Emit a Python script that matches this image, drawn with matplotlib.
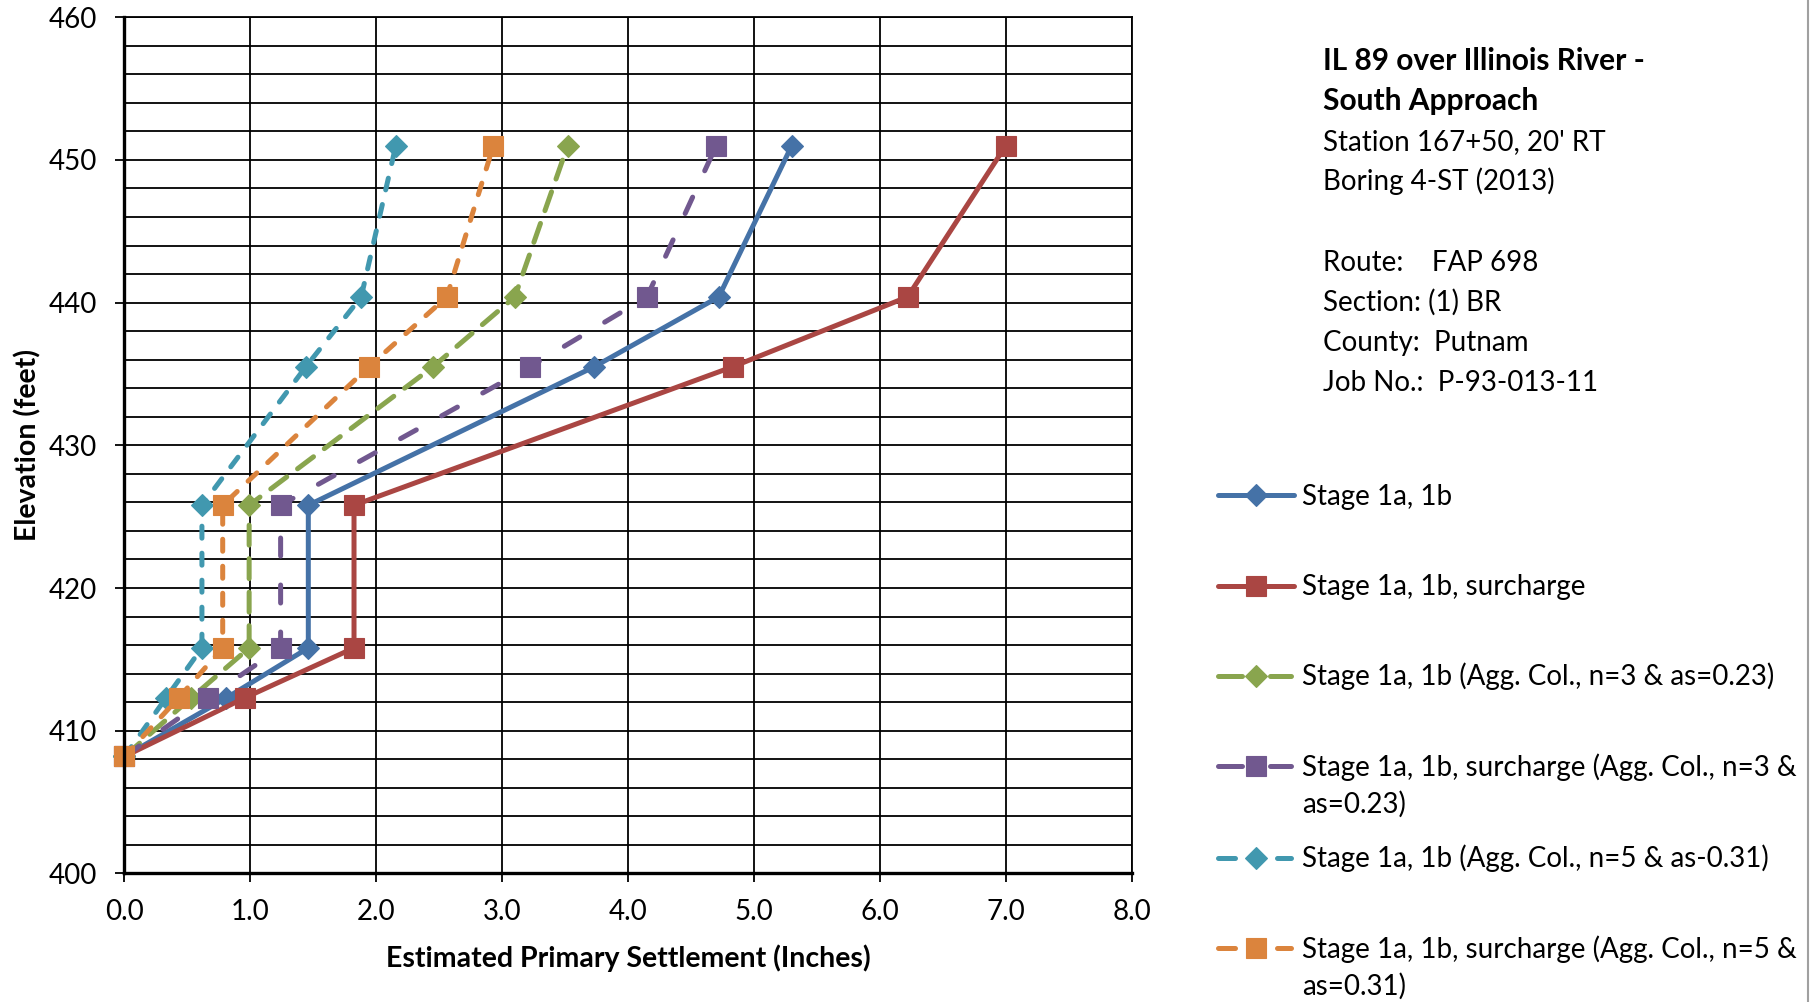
import matplotlib
matplotlib.use("Agg")
import matplotlib.pyplot as plt
from matplotlib.lines import Line2D
from matplotlib.ticker import MultipleLocator

# ---- data -------------------------------------------------------------
elevation = [408.2, 412.3, 415.8, 425.8, 435.5, 440.4, 451.0]

stage_1a_1b = [0.0, 0.81, 1.46, 1.46, 3.73, 4.72, 5.30]
stage_surcharge = [0.0, 0.955, 1.823, 1.823, 4.83, 6.22, 7.00]
agg3 = [0.0, 0.53, 0.99, 0.99, 2.45, 3.10, 3.52]
agg3_surcharge = [0.0, 0.66, 1.24, 1.24, 3.22, 4.15, 4.70]
agg5 = [0.0, 0.33, 0.615, 0.615, 1.44, 1.88, 2.155]
agg5_surcharge = [0.0, 0.43, 0.78, 0.78, 1.94, 2.56, 2.93]

series_labels = [
    "Stage 1a, 1b",
    "Stage 1a, 1b, surcharge",
    "Stage 1a, 1b (Agg. Col., n=3 & as=0.23)",
    "Stage 1a, 1b, surcharge (Agg. Col., n=3 &\nas=0.23)",
    "Stage 1a, 1b (Agg. Col., n=5 & as-0.31)",
    "Stage 1a, 1b, surcharge (Agg. Col., n=5 &\nas=0.31)",
]
series_values = [stage_1a_1b, stage_surcharge, agg3, agg3_surcharge, agg5, agg5_surcharge]

x_ticks = [0, 1, 2, 3, 4, 5, 6, 7, 8]
y_ticks = [400, 410, 420, 430, 440, 450, 460]

info_lines = [
    ("IL 89 over Illinois River -", "bold"),
    ("South Approach", "bold"),
    ("Station 167+50, 20' RT", "normal"),
    ("Boring 4-ST (2013)", "normal"),
    ("", "normal"),
    ("Route:    FAP 698", "normal"),
    ("Section: (1) BR", "normal"),
    ("County:  Putnam", "normal"),
    ("Job No.:  P-93-013-11", "normal"),
]

# ---- styles -----------------------------------------------------------
LW = 3.6
FS = 20
styles = [
    dict(color="#4572A7", marker="D", ms=10.8, ls="-", dashes=None),
    dict(color="#AA4643", marker="s", ms=15.0, ls="-", dashes=None),
    dict(color="#89A54E", marker="D", ms=10.8, ls="--", dashes=(4.0, 2.7)),
    dict(color="#71588F", marker="s", ms=15.0, ls="--", dashes=(3.6, 5.8)),
    dict(color="#4198AF", marker="D", ms=10.8, ls="--", dashes=(2.4, 3.0)),
    dict(color="#DB843D", marker="s", ms=15.0, ls="--", dashes=(2.4, 3.0)),
]

plt.rcParams["font.family"] = ["Lato", "DejaVu Sans"]

W, H = 1818, 1002
fig = plt.figure(figsize=(W / 100, H / 100), dpi=100)


def fx(px):
    return px / W


def fy(py):
    return 1 - py / H


ax_left, ax_right, ax_top, ax_bottom = 124.5, 1131.7, 17.2, 873.4
ax = fig.add_axes([fx(ax_left), fy(ax_bottom),
                   fx(ax_right) - fx(ax_left), fy(ax_top) - fy(ax_bottom)])

ax.set_xlim(0, 8)
ax.set_ylim(400, 460)
ax.set_xticks(x_ticks)
ax.set_xticklabels([f"{v:.1f}" for v in x_ticks])
ax.set_yticks(y_ticks)
ax.yaxis.set_minor_locator(MultipleLocator(2))

ax.grid(which="major", axis="x", color="black", lw=1.3)
ax.grid(which="both", axis="y", color="black", lw=1.3)
ax.set_axisbelow(True)

for side in ("top", "right"):
    ax.spines[side].set_linewidth(1.3)
for side in ("left", "bottom"):
    ax.spines[side].set_linewidth(2.4)

ax.tick_params(axis="both", which="major", direction="out", length=6.5,
               width=1.3, labelsize=FS, color="black")
ax.tick_params(axis="y", which="major", pad=13)
ax.tick_params(axis="x", which="major", pad=12)
ax.tick_params(axis="y", which="minor", length=0)

for vals, st in zip(series_values, styles):
    line, = ax.plot(vals, elevation, color=st["color"], lw=LW, ls=st["ls"],
                    marker=st["marker"], ms=st["ms"], mfc=st["color"],
                    mec=st["color"], mew=0.8, clip_on=False,
                    solid_capstyle="round", dash_capstyle="round",
                    solid_joinstyle="round")
    if st["dashes"] is not None:
        line.set_dashes(st["dashes"])

ax.set_xlabel("Estimated Primary Settlement (Inches)", fontsize=20.5,
              fontweight="bold", va="center")
ax.xaxis.set_label_coords(0.5, (ax_bottom - 958) / (ax_bottom - ax_top))
ax.set_ylabel("Elevation (feet)", fontsize=20.5, fontweight="bold", va="center")
ax.yaxis.set_label_coords((27.5 - ax_left) / (ax_right - ax_left), 0.5)

# ---- information block ----------------------------------------------
baselines = [70, 110, 150, 190, 231, 271, 311, 351, 391]
for (txt, weight), by in zip(info_lines, baselines):
    if txt:
        fig.text(fx(1323), fy(by), txt,
                 fontsize=21.5 if weight == "bold" else FS, fontweight=weight,
                 va="baseline", ha="left")

# ---- legend -----------------------------------------------------------
legend_centers = [495, 585.5, 676, 766.4, 858, 948.4]
h_x0, h_x1, h_mid = 1218, 1294, 1256
for label, st, cy in zip(series_labels, styles, legend_centers):
    y = fy(cy)
    if st["ls"] == "-":
        segs = [(h_x0, h_x1)]
    elif st["dashes"][0] >= 3.5:
        segs = [(h_x0, 1242), (1270, h_x1 - 3)]
    else:
        segs = [(h_x0, 1235), (1277, h_x1 - 3)]
    for a, b in segs:
        fig.add_artist(Line2D([fx(a), fx(b)], [y, y], transform=fig.transFigure,
                              color=st["color"], lw=LW, solid_capstyle="round"))
    fig.add_artist(Line2D([fx(h_mid)], [y], transform=fig.transFigure,
                          marker=st["marker"], ms=st["ms"], color=st["color"],
                          mfc=st["color"], mec=st["color"], mew=0.8, lw=0))
    for i, part in enumerate(label.split("\n")):
        fig.text(fx(1302), fy(cy + 9.5 + 37 * i), part, fontsize=FS,
                 va="baseline", ha="left")

# chart-area border on the right
fig.add_artist(Line2D([fx(1808), fx(1808)], [0, 1], transform=fig.transFigure,
                      color="#A0A0A0", lw=1.5))

fig.savefig("out.png", dpi=100)
